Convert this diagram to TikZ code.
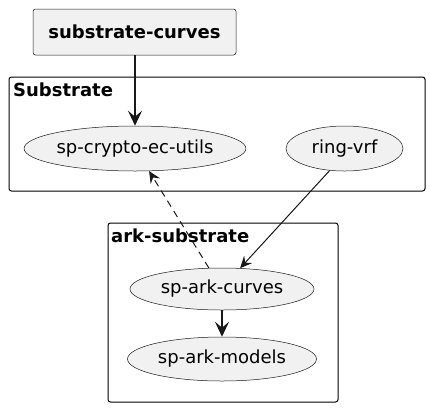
\documentclass[tikz,border=0pt]{standalone}
\usepackage{fontspec}
\setmainfont{DejaVu Sans}
\usetikzlibrary{shapes.geometric,arrows.meta}
\definecolor{nodefill}{HTML}{F1F1F1}
\definecolor{linec}{HTML}{181818}
\begin{document}
\begin{tikzpicture}[x=1pt,y=-1pt,
  usecase/.style={ellipse,draw=linec,fill=nodefill,line width=0.5pt,inner sep=0pt,font=\fontsize{18}{20}\selectfont},
  boxnode/.style={draw=linec,fill=nodefill,line width=0.5pt,rounded corners=2.5pt,font=\bfseries\fontsize{18}{20}\selectfont},
  pkg/.style={draw=black,line width=1pt,rounded corners=2.5pt},
  pkgtitle/.style={anchor=north west,inner sep=0pt,font=\bfseries\fontsize{18}{20}\selectfont},
  dep/.style={linec,line width=1pt,-{Stealth[length=12pt,width=11pt,inset=4.5pt]}},
  strong/.style={linec,line width=2pt,-{Stealth[length=15pt,width=14pt,inset=6pt]}}]
\useasboundingbox (0,0) rectangle (430,408);
% packages
\draw[pkg] (9,77) rectangle (425,191);
\node[pkgtitle] (t1) at (13,83) {Substrate};
\draw[pkg] (108,223) rectangle (338,402);
\node[pkgtitle] (t2) at (111,229) {ark-substrate};
% nodes
\node[boxnode,minimum width=203pt,minimum height=46pt] (sc) at (134.5,32) {substrate-curves};
\node[usecase,minimum width=210pt,minimum height=45pt] (ec) at (135,148.5) {sp-crypto-ec-utils};
\node[usecase,minimum width=117pt,minimum height=45pt] (rv) at (344.5,148.5) {ring-vrf};
\node[usecase,minimum width=184pt,minimum height=42pt] (ac) at (222,289) {sp-ark-curves};
\node[usecase,minimum width=189pt,minimum height=44pt] (am) at (222,359) {sp-ark-models};
% connectors
\draw[strong] (sc.south -| ec.north) -- (ec.north);
\draw[dep,dash pattern=on 7pt off 5pt] (ac.122) -- (ec.-58);
\draw[dep] (rv.-124) -- (ac.49);
\draw[strong] (ac.south) -- (am.north);
\end{tikzpicture}
\end{document}
